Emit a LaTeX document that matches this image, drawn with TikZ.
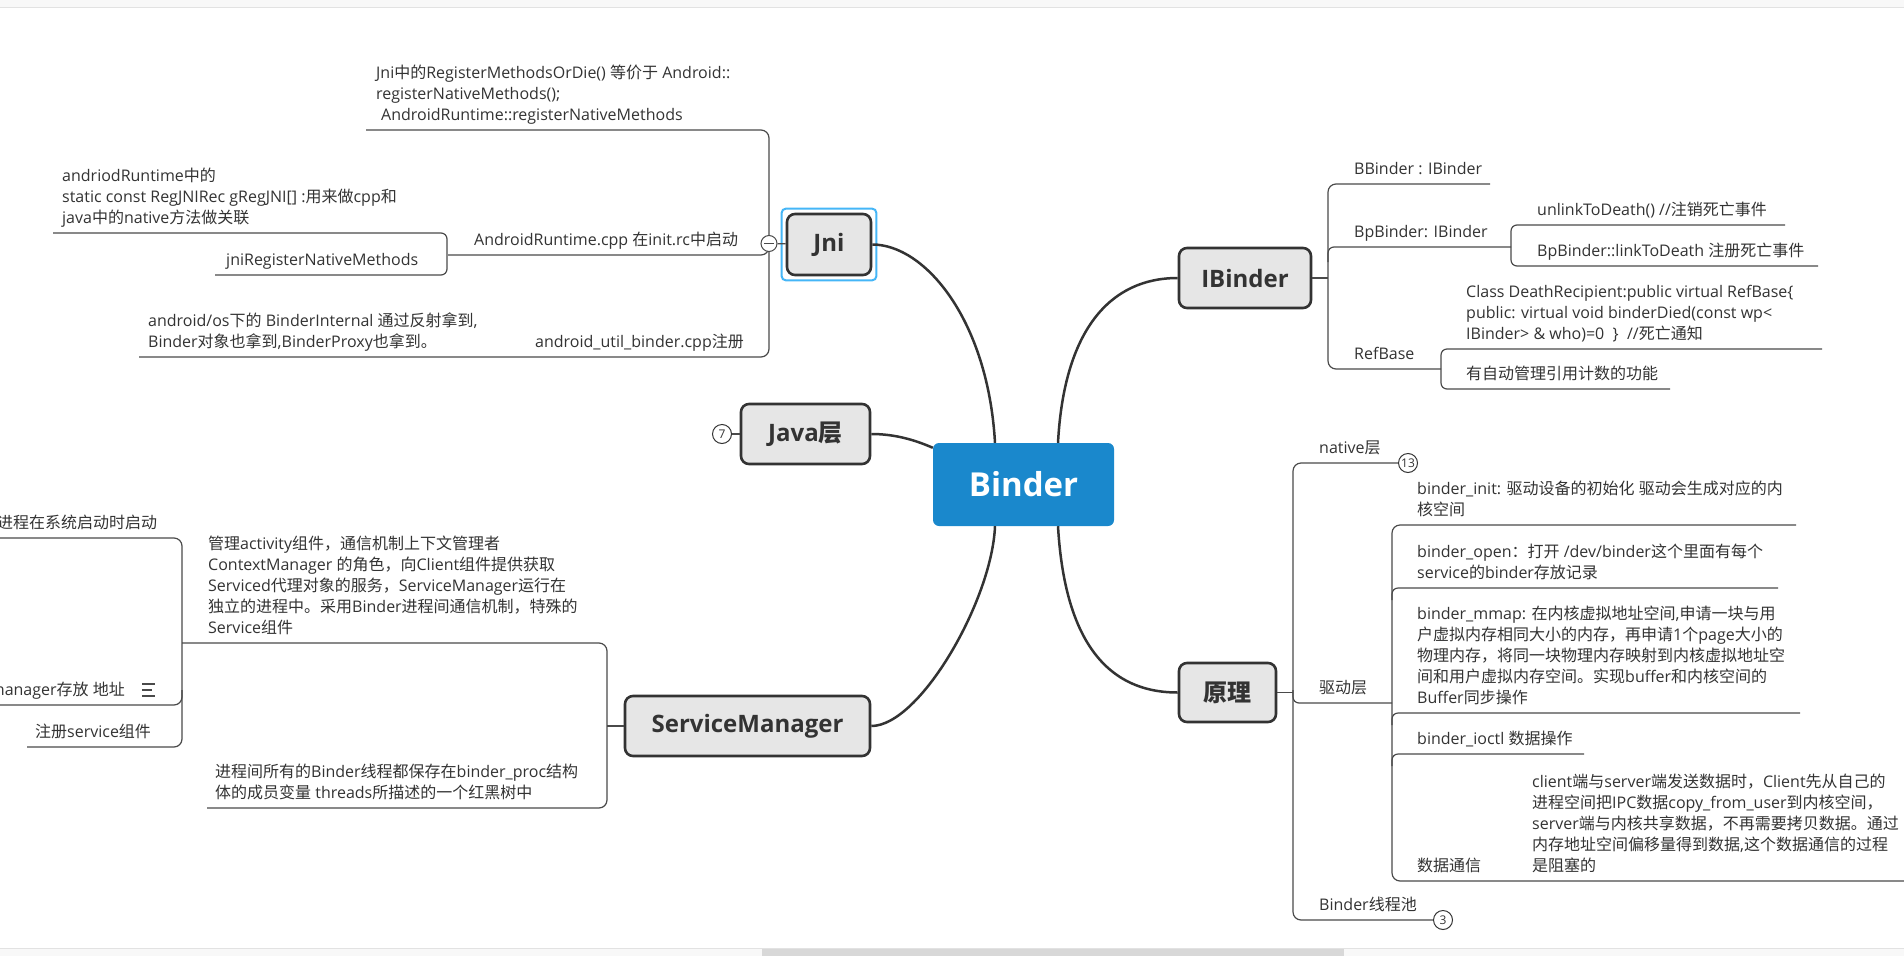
\documentclass[tikz,border=0pt]{standalone}
\usepackage{fontspec}
\setmainfont{Open Sans}
\newfontfamily\latinfont{Open Sans}
\newfontfamily\cjkfont{Noto Sans CJK SC}
\XeTeXinterchartokenstate=1
\newXeTeXintercharclass\cjkclass
\newcount\cjkc
\cjkc="3000 \loop\ifnum\cjkc<"3040 \XeTeXcharclass\cjkc=\cjkclass \advance\cjkc by 1 \repeat
\cjkc="4E00 \loop\ifnum\cjkc<"A000 \XeTeXcharclass\cjkc=\cjkclass \advance\cjkc by 1 \repeat
\cjkc="FF00 \loop\ifnum\cjkc<"FFF0 \XeTeXcharclass\cjkc=\cjkclass \advance\cjkc by 1 \repeat
\XeTeXinterchartoks 0 \cjkclass = {\cjkfont}
\XeTeXinterchartoks 4095 \cjkclass = {\cjkfont}
\XeTeXinterchartoks \cjkclass 0 = {\latinfont}
\XeTeXinterchartoks \cjkclass 4095 = {\latinfont}
\definecolor{textgray}{HTML}{333333}
\definecolor{linegray}{HTML}{4A4A4A}
\definecolor{curvegray}{HTML}{333333}
\definecolor{topicfill}{HTML}{E6E6E6}
\definecolor{binderblue}{HTML}{1A88CC}
\definecolor{selblue}{HTML}{45B6F7}
\definecolor{barfill}{HTML}{F8F8F8}
\definecolor{barline}{HTML}{E2E2E2}
\definecolor{thumb}{HTML}{D8D8D8}
\newcommand\ml[1]{\begin{tabular}[b]{@{}l@{}}#1\end{tabular}}
\begin{document}
\begin{tikzpicture}[x=1pt,y=-1pt,
 branch/.style={draw=linegray, line width=1.2pt},
 mainlink/.style={draw=curvegray, line width=2.5pt},
 topic/.style={draw=curvegray, line width=2.6pt, fill=topicfill, rounded corners=8pt,
   font=\fontsize{24}{28}\selectfont\bfseries, text=textgray, inner sep=0pt},
 central/.style={fill=binderblue, rounded corners=6pt, inner sep=0pt,
   font=\fontsize{33}{38}\selectfont\bfseries, text=white},
 txt/.style={font=\fontsize{16}{21}\selectfont, text=textgray, inner sep=0pt, anchor=base west},
 numcirc/.style={circle, draw=curvegray, line width=1pt, fill=white, inner sep=0pt,
   minimum size=19pt, font=\fontsize{12}{14}\selectfont, text=textgray},
]
\useasboundingbox (0,0) rectangle (1904,956);
\clip (0,0) rectangle (1904,956);
\fill[white] (0,0) rectangle (1904,956);
% window chrome
\fill[barfill] (0,0) rectangle (1904,7);
\draw[barline, line width=1pt] (0,7.5) -- (1904,7.5);
\fill[barfill] (0,948) rectangle (1904,956);
\draw[barline, line width=0.8pt] (0,948) -- (1904,948);
\fill[thumb] (762,948.5) rectangle (1344,956);

% main topics
\node[central, minimum width=181pt, minimum height=83pt] (binder) at (1023.5,484.5) {Binder};
\node[topic, minimum width=84pt, minimum height=61pt] (jni) at (829,244.5) {Jni};
\node[topic, minimum width=129pt, minimum height=60pt] (java) at (805.5,434) {Java层};
\node[topic, minimum width=132pt, minimum height=60pt] (ibinder) at (1245,278) {IBinder};
\node[topic, minimum width=97pt, minimum height=59pt] (yuanli) at (1227.5,692.5) {原理};
\node[topic, minimum width=245pt, minimum height=60pt] (sm) at (747.5,726) {ServiceManager};
\draw[selblue, line width=2pt, rounded corners=4pt] ([shift={(-4,-4)}]jni.north west) rectangle ([shift={(4,4)}]jni.south east);

% connectors from the central topic
\draw[mainlink] ([xshift=-28.5pt]binder.north) .. controls (988,320) and (925,244.5) .. (jni.east);
\draw[mainlink] ([xshift=34.5pt]binder.north) .. controls (1064,330) and (1110,278) .. (ibinder.west);
\draw[mainlink] ([xshift=34.5pt]binder.south) .. controls (1064,630) and (1100,692.5) .. (yuanli.west);
\draw[mainlink] ([xshift=-28.5pt]binder.south) .. controls (992,600) and (920,726) .. (sm.east);
\draw[mainlink] ([yshift=-5pt]binder.north west) .. controls (915,440) and (895,434) .. (java.east);

% ---------------- Jni branch
\draw[branch, rounded corners=8pt] (366,130) -| (769,357) -- (139,357);
\draw[branch, rounded corners=8pt] (448,255) -| (769,243);
\draw[branch, rounded corners=6pt] (53,233) -| (447,275) -- (215,275);
\node[circle, draw=linegray, line width=1pt, fill=white, minimum size=16pt, inner sep=0pt] (jnicol) at (769,243.5) {};
\draw[linegray, line width=1.6pt] ([xshift=3.5pt]jnicol.west) -- ([xshift=-3.5pt]jnicol.east);
\draw[branch] (jnicol) -- (jni);
\node[txt] (t1) at (376,120) {\ml{Jni中的RegisterMethodsOrDie() 等价于 Android::\\registerNativeMethods();\\\hspace{5pt}AndroidRuntime::registerNativeMethods}};
\node[txt] (t2) at (474,245) {\ml{AndroidRuntime.cpp 在init.rc中启动}};
\node[txt] (t3) at (226,265) {\ml{jniRegisterNativeMethods}};
\node[txt] (t4) at (62,223) {\ml{andriodRuntime中的\\static const RegJNIRec gRegJNI[] :用来做cpp和\\java中的native方法做关联}};
\node[txt] (t5) at (535,347) {\ml{android\_util\_binder.cpp注册}};
\node[txt] (t6) at (148,347) {\ml{android/os下的 BinderInternal 通过反射拿到,\\Binder对象也拿到,BinderProxy也拿到。}};

% ---------------- Java branch
\node[numcirc] (c7) at (722,434) {7};
\draw[branch] (c7) -- (java);

% ---------------- ServiceManager branch
\draw[branch, rounded corners=8pt] (182,643) -| (607,808) -- (207,808);
\draw[branch] (607,726) -- (sm.west);
\draw[branch, rounded corners=8pt] (-5,538) -| (182,747) -- (27,747);
\draw[branch, rounded corners=8pt] (-5,705) -| (182,690);
\node[txt] (s1) at (208,633) {\ml{管理activity组件，通信机制上下文管理者\\ContextManager 的角色，向Client组件提供获取\\Serviced代理对象的服务，ServiceManager运行在\\独立的进程中。采用Binder进程间通信机制，特殊的\\Service组件}};
\node[txt] (s2) at (215,798) {\ml{进程间所有的Binder线程都保存在binder\_proc结构\\体的成员变量 threads所描述的一个红黑树中}};
\node[txt] (s3) at (-3,528) {\ml{进程在系统启动时启动}};
\node[txt, anchor=base east] (s4) at (125,695) {\ml{manager存放 地址}};
\draw[linegray, line width=1.2pt] (142,684) -- (155,684) (142,690) -- (152,690) (142,696) -- (155,696);
\node[txt] (s5) at (35,737) {\ml{注册service组件}};

% ---------------- IBinder branch
\draw[branch, rounded corners=8pt] (1490,184) -| (1328,369) -- (1441,369);
\draw[branch] (ibinder.east) -- (1328,278);
\draw[branch, rounded corners=6pt] (1328,262) |- (1511,247);
\draw[branch, rounded corners=6pt] (1785,225) -| (1511,266) -- (1818,266);
\draw[branch, rounded corners=6pt] (1822,349) -| (1441,389) -- (1670,389);
\node[txt] (b1) at (1354,174) {\ml{BBinder : IBinder}};
\node[txt] (b2) at (1354,237) {\ml{BpBinder: IBinder}};
\node[txt] (b3) at (1537,215) {\ml{unlinkToDeath() //注销死亡事件}};
\node[txt] (b4) at (1537,256) {\ml{BpBinder::linkToDeath 注册死亡事件}};
\node[txt] (b5) at (1354,359) {\ml{RefBase}};
\node[txt] (b6) at (1466,339) {\ml{Class DeathRecipient:public virtual RefBase\{\\public: virtual void binderDied(const wp<\\IBinder> \& who)=0\ \ \}\ \ //死亡通知}};
\node[txt] (b7) at (1466,379) {\ml{有自动管理引用计数的功能}};

% ---------------- 原理 branch
\node[numcirc] (c13) at (1408,463) {13};
\node[numcirc] (c3) at (1443,920) {3};
\draw[branch, rounded corners=8pt] (c13.west) -| (1293,920) -- (c3.west);
\draw[branch] (yuanli.east) -- (1293,692.5);
\draw[branch, rounded corners=6pt] (1293,690) |- (1392,703);
\draw[branch, rounded corners=8pt] (1796,525) -| (1392,881) -- (1910,881);
\draw[branch, rounded corners=6pt] (1392,600) |- (1778,588);
\draw[branch, rounded corners=6pt] (1392,725) |- (1800,713);
\draw[branch, rounded corners=6pt] (1392,766) |- (1584,754);
\node[txt] (y1) at (1319,453) {\ml{native层}};
\node[txt] (y2) at (1319,693) {\ml{驱动层}};
\node[txt] (y3) at (1319,910) {\ml{Binder线程池}};
\node[txt] (d1) at (1417,515) {\ml{binder\_init: 驱动设备的初始化 驱动会生成对应的内\\核空间}};
\node[txt] (d2) at (1417,578) {\ml{binder\_open：打开 /dev/binder这个里面有每个\\service的binder存放记录}};
\node[txt] (d3) at (1417,703) {\ml{binder\_mmap: 在内核虚拟地址空间,申请一块与用\\户虚拟内存相同大小的内存，再申请1个page大小的\\物理内存，将同一块物理内存映射到内核虚拟地址空\\间和用户虚拟内存空间。实现buffer和内核空间的\\Buffer同步操作}};
\node[txt] (d4) at (1417,744) {\ml{binder\_ioctl 数据操作}};
\node[txt] (d5) at (1417,871) {\ml{数据通信}};
\node[txt] (d6) at (1532,871) {\ml{client端与server端发送数据时，Client先从自己的\\进程空间把IPC数据copy\_from\_user到内核空间，\\server端与内核共享数据，不再需要拷贝数据。通过\\内存地址空间偏移量得到数据,这个数据通信的过程\\是阻塞的}};
\end{tikzpicture}
\end{document}
